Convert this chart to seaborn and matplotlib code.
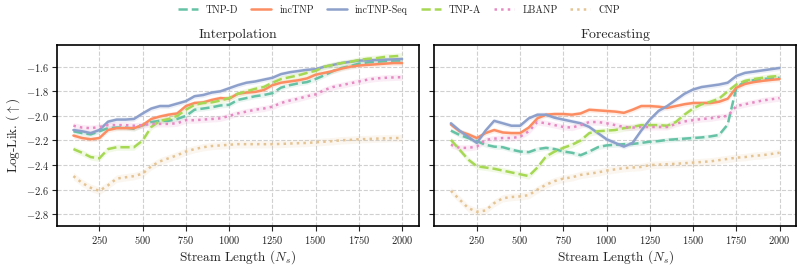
import matplotlib; matplotlib.use('Agg')
import numpy as np
import seaborn as sns
import matplotlib.pyplot as plt

# stream lengths
stream_len = np.arange(100, 2001, 50)

models = ['TNP-D', 'incTNP', 'incTNP-Seq', 'TNP-A', 'LBANP', 'CNP']

# Interpolation log-lik
interp_tnpd = [-2.125, -2.14, -2.15, -2.125, -2.10, -2.095, -2.095, -2.105, -2.075, -2.05,
               -2.04, -2.04, -2.025, -2.0, -1.95, -1.94, -1.93, -1.915, -1.91, -1.87,
               -1.855, -1.84, -1.83, -1.815, -1.77, -1.75, -1.735, -1.725, -1.70, -1.67,
               -1.635, -1.61, -1.595, -1.575, -1.565, -1.56, -1.555, -1.55, -1.55]
interp_inc = [-2.16, -2.18, -2.19, -2.18, -2.115, -2.10, -2.10, -2.10, -2.075, -2.025,
              -2.005, -1.99, -1.98, -1.92, -1.895, -1.89, -1.87, -1.855, -1.86, -1.82,
              -1.81, -1.805, -1.79, -1.75, -1.73, -1.72, -1.71, -1.695, -1.665, -1.65,
              -1.635, -1.615, -1.60, -1.59, -1.585, -1.58, -1.575, -1.57, -1.57]
interp_seq = [-2.115, -2.125, -2.14, -2.115, -2.047, -2.03, -2.03, -2.025, -1.98, -1.94,
              -1.92, -1.92, -1.90, -1.88, -1.84, -1.83, -1.81, -1.80, -1.775, -1.75,
              -1.73, -1.72, -1.705, -1.69, -1.66, -1.645, -1.635, -1.625, -1.62, -1.60,
              -1.585, -1.57, -1.56, -1.55, -1.548, -1.545, -1.542, -1.54, -1.537]
interp_tnpa = [-2.27, -2.30, -2.335, -2.345, -2.27, -2.255, -2.255, -2.255, -2.20, -2.09,
               -2.04, -2.025, -2.0, -1.95, -1.91, -1.895, -1.89, -1.875, -1.855, -1.82,
               -1.80, -1.78, -1.765, -1.73, -1.70, -1.685, -1.67, -1.65, -1.633, -1.60,
               -1.585, -1.57, -1.56, -1.545, -1.535, -1.53, -1.52, -1.515, -1.51]
interp_lbanp = [-2.08, -2.095, -2.10, -2.09, -2.075, -2.075, -2.075, -2.08, -2.075, -2.065,
                -2.065, -2.065, -2.06, -2.035, -2.035, -2.03, -2.025, -2.02, -2.0, -1.98,
                -1.965, -1.95, -1.94, -1.925, -1.895, -1.875, -1.86, -1.84, -1.825, -1.79,
                -1.765, -1.75, -1.735, -1.72, -1.705, -1.695, -1.69, -1.687, -1.685]
interp_cnp = [-2.49, -2.545, -2.585, -2.61, -2.565, -2.51, -2.50, -2.49, -2.47, -2.41,
              -2.37, -2.345, -2.32, -2.29, -2.27, -2.255, -2.245, -2.24, -2.235, -2.23,
              -2.23, -2.23, -2.23, -2.23, -2.228, -2.225, -2.222, -2.22, -2.215, -2.21,
              -2.205, -2.198, -2.195, -2.19, -2.188, -2.185, -2.183, -2.18, -2.18]

# Forecasting log-lik
fc_tnpd = [-2.12, -2.155, -2.18, -2.205, -2.235, -2.25, -2.255, -2.275, -2.29, -2.295,
           -2.27, -2.26, -2.27, -2.29, -2.30, -2.32, -2.29, -2.255, -2.24, -2.235,
           -2.23, -2.228, -2.22, -2.21, -2.205, -2.195, -2.19, -2.185, -2.18, -2.175,
           -2.167, -2.155, -2.07, -1.77, -1.72, -1.71, -1.70, -1.695, -1.69]
fc_inc = [-2.07, -2.125, -2.15, -2.18, -2.14, -2.115, -2.135, -2.14, -2.14, -2.095,
          -2.02, -1.99, -1.985, -1.985, -1.99, -1.98, -1.95, -1.955, -1.96, -1.965,
          -1.975, -1.95, -1.92, -1.92, -1.925, -1.935, -1.92, -1.905, -1.895, -1.895,
          -1.895, -1.885, -1.86, -1.77, -1.74, -1.725, -1.715, -1.707, -1.70]
fc_seq = [-2.06, -2.12, -2.17, -2.22, -2.12, -2.04, -2.06, -2.08, -2.08, -2.02,
          -1.99, -1.99, -2.015, -2.03, -2.045, -2.06, -2.09, -2.14, -2.19, -2.22,
          -2.25, -2.22, -2.12, -2.03, -1.96, -1.92, -1.87, -1.82, -1.785, -1.765,
          -1.755, -1.745, -1.73, -1.675, -1.65, -1.64, -1.63, -1.62, -1.61]
fc_tnpa = [-2.195, -2.275, -2.355, -2.41, -2.42, -2.43, -2.445, -2.46, -2.475, -2.49,
           -2.42, -2.33, -2.29, -2.26, -2.235, -2.20, -2.14, -2.125, -2.12, -2.115,
           -2.10, -2.09, -2.075, -2.075, -2.075, -2.08, -2.05, -1.99, -1.94, -1.905,
           -1.885, -1.86, -1.80, -1.745, -1.715, -1.70, -1.69, -1.68, -1.675]
fc_lbanp = [-2.235, -2.26, -2.26, -2.25, -2.195, -2.185, -2.18, -2.18, -2.17, -2.125,
            -2.05, -2.06, -2.075, -2.09, -2.095, -2.075, -2.05, -2.05, -2.06, -2.075,
            -2.09, -2.095, -2.09, -2.09, -2.09, -2.09, -2.065, -2.045, -2.035, -2.025,
            -2.02, -2.008, -2.0, -1.92, -1.905, -1.89, -1.875, -1.865, -1.855]
fc_cnp = [-2.61, -2.68, -2.75, -2.78, -2.77, -2.71, -2.67, -2.66, -2.655, -2.645,
          -2.60, -2.56, -2.53, -2.51, -2.50, -2.48, -2.47, -2.46, -2.445, -2.435,
          -2.425, -2.42, -2.415, -2.40, -2.397, -2.393, -2.39, -2.385, -2.38, -2.375,
          -2.37, -2.36, -2.35, -2.34, -2.335, -2.325, -2.32, -2.31, -2.30]

panels = {
    'Interpolation': [interp_tnpd, interp_inc, interp_seq, interp_tnpa, interp_lbanp, interp_cnp],
    'Forecasting': [fc_tnpd, fc_inc, fc_seq, fc_tnpa, fc_lbanp, fc_cnp],
}

pal = sns.color_palette('Set2')
colors = [pal[0], pal[1], pal[2], pal[4], pal[3], pal[6]]
styles = ['--', '-', '-', '--', ':', ':']
band = [0.02, 0.02, 0.02, 0.025, 0.025, 0.03]

sns.set_style('ticks')
plt.rcParams['font.family'] = ['cmr10', 'DejaVu Serif']
plt.rcParams['mathtext.fontset'] = 'cm'
plt.rcParams['axes.formatter.use_mathtext'] = True
plt.rcParams['axes.unicode_minus'] = True

fig, axes = plt.subplots(1, 2, figsize=(7.98, 2.67), dpi=100, sharey=True)
fig.subplots_adjust(left=0.0714, right=0.9975, bottom=0.154, top=0.831, wspace=0.044)

for ax, (title, series) in zip(axes, panels.items()):
    for name, vals, c, ls, b in zip(models, series, colors, styles, band):
        vals = np.array(vals)
        ax.fill_between(stream_len, vals - b, vals + b, color=c, alpha=0.15, lw=0)
        sns.lineplot(x=stream_len, y=vals, ax=ax, color=c, linestyle=ls, lw=1.8, label=name)
    ax.set_title(title, fontsize=10, pad=5)
    ax.set_xlabel(r'Stream Length ($N_s$)', fontsize=9.5, labelpad=2)
    ax.grid(True, linestyle='--', color='#d0d0d0', lw=0.8)
    ax.set_xticks([250, 500, 750, 1000, 1250, 1500, 1750, 2000])
    ax.tick_params(labelsize=7.5, width=0.8, length=3.5, pad=2)
    for s in ax.spines.values():
        s.set_color('black')
        s.set_linewidth(1.2)
    ax.get_legend().remove()

axes[0].set_ylim(-2.895, -1.424)
axes[0].set_yticks([-2.8, -2.6, -2.4, -2.2, -2.0, -1.8, -1.6])
axes[0].set_ylabel(r'Log-Lik. ($\uparrow$)', fontsize=9.5, labelpad=3)

handles, labels = axes[0].get_legend_handles_labels()
fig.legend(handles, labels, loc='upper center', ncol=6, frameon=False, fontsize=7.2,
           bbox_to_anchor=(0.5, 1.015), handlelength=2.0, columnspacing=1.3)

plt.savefig('out.png', dpi=100)
